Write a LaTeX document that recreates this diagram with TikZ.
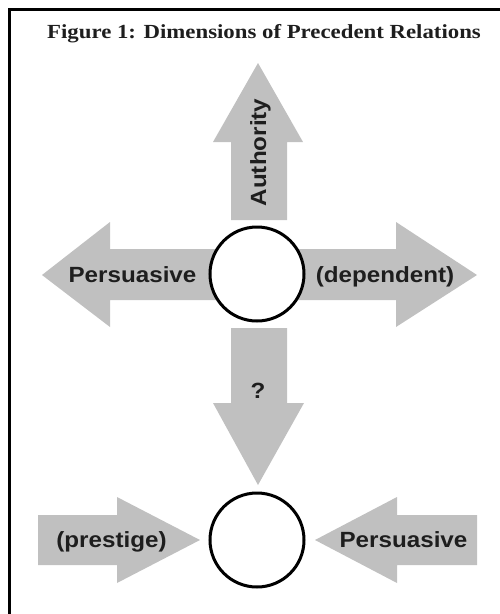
\documentclass[tikz,border=0pt]{standalone}
\usepackage{fontspec}
\setmainfont{Liberation Serif}
\newfontfamily\labfont{Liberation Sans}
\definecolor{arrowgray}{RGB}{192,192,192}
\definecolor{txt}{RGB}{30,30,30}
\begin{document}
\begin{tikzpicture}[x=1pt,y=-1pt,
  blockarrow/.style={fill=arrowgray, draw=none},
  ring/.style={circle, draw=black, line width=3pt, fill=white, minimum size=94pt, inner sep=0pt},
  lab/.style={font=\labfont\bfseries\fontsize{22}{22}\selectfont, text=txt, inner sep=0pt, anchor=base},
  titlestyle/.style={font=\bfseries\fontsize{20}{20}\selectfont, text=txt, inner sep=0pt, anchor=base},
  frameline/.style={line width=3pt, line join=miter}
]
\useasboundingbox (0,0) rectangle (500,614);
\draw[frameline] (9,614) -- (9,9) -- (500,9);

\node[titlestyle] (title) at (264,38) {\scalebox{1.14}[1]{Figure 1: Dimensions of Precedent Relations}};

% block arrows (upper cross)
\fill[blockarrow] (231,220) -- (231,142) -- (213,142) -- (258,63) -- (303,142) -- (287,142) -- (287,220) -- cycle;
\fill[blockarrow] (257,249) -- (110,249) -- (110,222) -- (42,275) -- (110,327) -- (110,300) -- (257,300) -- cycle;
\fill[blockarrow] (257,249) -- (396,249) -- (396,222) -- (477,275) -- (396,327) -- (396,300) -- (257,300) -- cycle;
\fill[blockarrow] (231,328) -- (231,403) -- (213,403) -- (258,485) -- (304,403) -- (287,403) -- (287,328) -- cycle;

% block arrows (lower row)
\fill[blockarrow] (38,515) -- (117,515) -- (117,497) -- (200,540) -- (117,583) -- (117,565) -- (38,565) -- cycle;
\fill[blockarrow] (477,515) -- (397,515) -- (397,497) -- (315,540) -- (397,583) -- (397,565) -- (477,565) -- cycle;

% circles
\node[ring] (upper) at (257,274) {};
\node[ring] (lower) at (257,540) {};

% labels
\node[lab, rotate=90] (auth) at (266,152.5) {\scalebox{1.1}[1]{Authority}};
\node[lab] (persA) at (132.5,282) {\scalebox{1.1}[1]{Persuasive}};
\node[lab] (dep) at (385,282) {\scalebox{1.1}[1]{(dependent)}};
\node[lab] (q) at (258,398) {\scalebox{1.1}[1]{?}};
\node[lab] (pres) at (111.5,547) {\scalebox{1.1}[1]{(prestige)}};
\node[lab] (persB) at (403.5,547) {\scalebox{1.1}[1]{Persuasive}};
\end{tikzpicture}
\end{document}
